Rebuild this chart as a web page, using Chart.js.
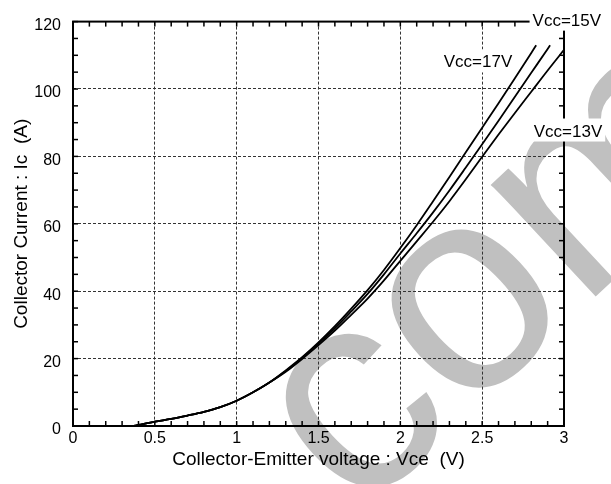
<!DOCTYPE html>
<html lang="en">
<head>
  <meta charset="UTF-8">
  <title>Ic - Vce</title>
  <script src="https://cdn.jsdelivr.net/npm/chart.js"></script>
  <style>
    html, body { margin: 0; padding: 0; background: #fff; }
  </style>
</head>
<body>
  <canvas id="chart" width="611" height="484"></canvas>
  <script>
    // Vce (V) / Ic (A)
    const vce17 = [0.37, 0.4, 0.5, 0.6, 0.7, 0.8, 0.9, 1.0, 1.1, 1.2, 1.3, 1.4, 1.5, 1.6, 1.7, 1.8, 1.9, 2.0, 2.1, 2.2, 2.3, 2.4, 2.5, 2.6, 2.7, 2.8, 2.83];
    const ic17  = [0, 0.3, 1.3, 2.1, 3.1, 4.2, 5.6, 7.5, 10.0, 12.9, 16.5, 20.4, 24.8, 29.6, 34.8, 40.3, 46.3, 52.8, 59.6, 66.7, 73.9, 81.2, 88.5, 95.8, 103.2, 110.7, 113.0];

    const vce15 = [0.37, 0.4, 0.5, 0.6, 0.7, 0.8, 0.9, 1.0, 1.1, 1.2, 1.3, 1.4, 1.5, 1.6, 1.7, 1.8, 1.9, 2.0, 2.1, 2.2, 2.3, 2.4, 2.5, 2.6, 2.7, 2.8, 2.9, 2.915];
    const ic15  = [0, 0.3, 1.3, 2.1, 3.1, 4.2, 5.6, 7.5, 10.0, 12.9, 16.3, 20.2, 24.5, 29.0, 34.0, 39.2, 45.0, 51.2, 57.2, 63.4, 69.9, 76.7, 83.6, 90.6, 97.7, 104.8, 111.9, 113.0];

    const vce13 = [0.37, 0.4, 0.5, 0.6, 0.7, 0.8, 0.9, 1.0, 1.1, 1.2, 1.3, 1.4, 1.5, 1.6, 1.7, 1.8, 1.9, 2.0, 2.1, 2.2, 2.3, 2.4, 2.5, 2.6, 2.7, 2.8, 2.9, 3.0];
    const ic13  = [0, 0.3, 1.3, 2.1, 3.1, 4.2, 5.6, 7.5, 10.0, 12.9, 16.1, 19.9, 24.0, 28.3, 33.0, 37.8, 43.2, 49.0, 54.8, 60.6, 66.7, 73.2, 79.9, 86.5, 92.9, 99.2, 105.5, 111.6];

    // curve labels: text, Vce of left edge, Ic of baseline
    const noteText = ['Vcc=17V', 'Vcc=15V', 'Vcc=13V'];
    const noteVce  = [2.265, 2.808, 2.815];
    const noteIc   = [106.4, 118.8, 85.9];

    const xTitle = 'Collector-Emitter voltage : Vce  (V)';
    const yTitle = 'Collector Current : Ic  (A)';

    const FONT = '"Liberation Sans", Arial, Helvetica, sans-serif';
    Chart.defaults.font.family = FONT;
    Chart.defaults.color = '#000';

    const pts = (xs, ys) => xs.map((v, i) => ({ x: v, y: ys[i] }));

    const line = (ctx, x1, y1, x2, y2) => {
      ctx.beginPath();
      ctx.moveTo(x1, y1);
      ctx.lineTo(x2, y2);
      ctx.stroke();
    };

    const decor = {
      id: 'decor',
      beforeDraw(chart) {
        const { ctx, width, height } = chart;
        ctx.save();
        ctx.fillStyle = '#fff';
        ctx.fillRect(0, 0, width, height);
        // grey watermark behind everything
        ctx.translate(357, 519);
        ctx.rotate(-43 * Math.PI / 180);
        ctx.font = '290px ' + FONT;
        ctx.fillStyle = '#c0c0c0';
        ctx.textBaseline = 'alphabetic';
        ctx.fillText('com', 0, 0);
        ctx.restore();
      },
      afterDraw(chart) {
        const { ctx } = chart;
        const { left, right, top, bottom } = chart.chartArea;
        const xs = chart.scales.x, ys = chart.scales.y;
        ctx.save();
        ctx.strokeStyle = '#000';

        // inward tick marks on all four sides
        ctx.lineWidth = 1.5;
        for (let i = 0; i <= 30; i++) {
          const px = xs.getPixelForValue(i / 10);
          line(ctx, px, bottom, px, bottom - 5);
          line(ctx, px, top, px, top + 5);
        }
        for (let i = 0; i <= 24; i++) {
          const py = ys.getPixelForValue(i * 5);
          line(ctx, left, py, left + 5, py);
          line(ctx, right, py, right - 5, py);
        }

        ctx.lineWidth = 2;
        ctx.strokeRect(left, top, right - left, bottom - top);

        // curve labels on white boxes
        ctx.font = '17px ' + FONT;
        ctx.textBaseline = 'alphabetic';
        noteText.forEach((t, i) => {
          const px = xs.getPixelForValue(noteVce[i]);
          const py = ys.getPixelForValue(noteIc[i]);
          const w = ctx.measureText(t).width;
          ctx.fillStyle = '#fff';
          ctx.fillRect(px - 3, py - 18, w + 6, 23);
          ctx.fillStyle = '#000';
          ctx.fillText(t, px, py);
        });
        ctx.restore();
      }
    };

    const gridColor = (ctx) => {
      const s = ctx.scale;
      return (ctx.tick.value <= s.min || ctx.tick.value >= s.max) ? 'rgba(0,0,0,0)' : '#333';
    };

    const curve = (label, xs, ys) => ({
      label,
      data: pts(xs, ys),
      borderColor: '#000',
      borderWidth: 1.8,
      pointRadius: 0,
      fill: false,
      cubicInterpolationMode: 'monotone'
    });

    new Chart(document.getElementById('chart'), {
      type: 'line',
      data: {
        datasets: [
          curve('Vcc=17V', vce17, ic17),
          curve('Vcc=15V', vce15, ic15),
          curve('Vcc=13V', vce13, ic13)
        ]
      },
      options: {
        responsive: false,
        animation: false,
        devicePixelRatio: 1,
        layout: { padding: { left: 0, top: 13, right: 47, bottom: 0 } },
        plugins: { legend: { display: false }, tooltip: { enabled: false } },
        scales: {
          x: {
            type: 'linear',
            min: 0,
            max: 3,
            afterFit: (s) => { s.height = 58; },
            ticks: {
              stepSize: 0.5,
              padding: 3,
              font: { size: 16 },
              callback: (v) => String(+v.toFixed(2))
            },
            grid: { color: gridColor, lineWidth: 1, drawTicks: false },
            border: { display: false, dash: [3, 2] },
            title: { display: true, text: xTitle, font: { size: 19 }, padding: { top: 0, bottom: 13 } }
          },
          y: {
            type: 'linear',
            min: 0,
            max: 120,
            afterFit: (s) => { s.width = 73; },
            ticks: { stepSize: 20, padding: 12, labelOffset: 4, font: { size: 16 } },
            grid: { color: gridColor, lineWidth: 1, drawTicks: false },
            border: { display: false, dash: [3, 2] },
            title: { display: true, text: yTitle, font: { size: 19 }, padding: { top: 10.5, bottom: 0 } }
          }
        }
      },
      plugins: [decor]
    });
  </script>
</body>
</html>
